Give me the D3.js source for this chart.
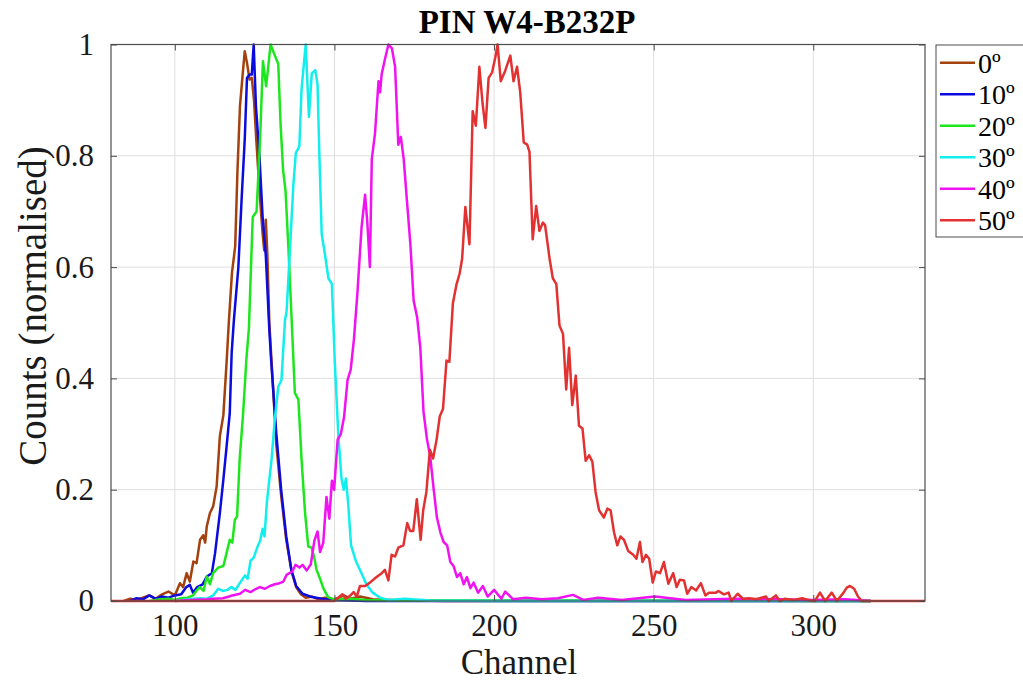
<!DOCTYPE html>
<html>
<head>
<meta charset="utf-8">
<script src="https://cdn.jsdelivr.net/npm/d3@7"></script>
<style>
  html, body { margin: 0; padding: 0; background: #ffffff; }
  svg { display: block; font-family: "Liberation Serif", "Times New Roman", serif; }
</style>
</head>
<body>
<svg id="chart" width="1023" height="682"></svg>
<script>
// ---------------- DATA ----------------
const seriesLabels = ["0º", "10º", "20º", "30º", "40º", "50º"];
const seriesColors = ["#a3410f", "#0b0bdf", "#1ee61e", "#12eeee", "#f012f0", "#e23131"];
const xTickValues = [100, 150, 200, 250, 300];
const yTickValues = [0, 0.2, 0.4, 0.6, 0.8, 1];
const yTickLabels = ["0", "0.2", "0.4", "0.6", "0.8", "1"];

// [channel, normalised counts]
const deg0 = [[84,0],[86,0.004],[88,0.002],[90,0.006],[92,0.01],[94,0.004],[96,0.012],[98,0.017],[100,0.01],
  [101.6,0.032],[102.6,0.025],[103.7,0.05],[104.7,0.035],[105.8,0.071],[106.8,0.068],[107.9,0.11],[108.9,0.118],
  [109.5,0.105],[110,0.134],[111,0.158],[112,0.17],[113.1,0.206],[114.1,0.296],[115.2,0.334],[116.2,0.428],
  [116.9,0.5],[117.9,0.59],[118.9,0.637],[119.6,0.77],[120.4,0.889],[121.2,0.943],[121.9,0.988],[122.6,0.967],
  [123.4,0.937],[124.1,0.94],[124.8,0.9],[125.5,0.83],[126.6,0.73],[127.5,0.66],[128,0.63],[128.5,0.685],
  [129,0.62],[129.6,0.5],[130.2,0.44],[131.8,0.28],[133.3,0.19],[134.9,0.11],[136.5,0.055],[138,0.025],
  [139.5,0.012],[141,0.006],[143,0.008],[145,0.003],[147,0.006],[149,0.002],[151,0.005],[153,0.01],[155,0.004],
  [158,0.008],[162,0.003],[168,0.002],[175,0.001],[185,0],[318,0]];

const deg10 = [[86,0],[88,0.005],[90,0.003],[92,0.01],[94,0.004],[96,0.008],[98,0.006],[100,0.01],[102,0.012],
  [103.6,0.025],[104.7,0.029],[105.7,0.015],[107,0.025],[108.7,0.03],[110,0.044],[111.6,0.05],[112.6,0.086],
  [114.1,0.158],[115.2,0.218],[116.2,0.277],[117.2,0.337],[117.8,0.446],[118.5,0.505],[119.9,0.6],[120.9,0.72],
  [121.9,0.83],[122.6,0.94],[123.4,0.946],[124.1,0.946],[124.7,1.0],[125.4,0.89],[126.5,0.8],[127.5,0.69],
  [128.5,0.62],[129.6,0.487],[130.2,0.43],[131.8,0.3],[133.3,0.2],[134.9,0.116],[136.5,0.056],[138,0.027],
  [140,0.013],[143,0.007],[146,0.004],[150,0.002],[155,0.001],[160,0],[318,0]];

const deg20 = [[92,0],[95.4,0.003],[98,0.004],[100,0.002],[102,0.005],[104,0.006],[105.7,0.01],[107,0.02],
  [107.8,0.025],[109,0.018],[110,0.044],[111,0.03],[112,0.05],[113.6,0.06],[115.2,0.063],[116.2,0.086],
  [117.2,0.11],[118,0.105],[118.8,0.146],[119.5,0.152],[120.3,0.254],[121.4,0.338],[122.4,0.433],[123.2,0.49],
  [124.4,0.69],[125.6,0.7],[126.7,0.83],[127.6,0.97],[128.6,0.925],[130,1.0],[131,0.985],[132.4,0.965],
  [133.1,0.86],[133.9,0.775],[134.7,0.735],[135.7,0.62],[136.6,0.505],[137.6,0.374],[138.7,0.362],[139.7,0.254],
  [140.8,0.158],[141.8,0.098],[142.8,0.096],[143.6,0.08],[144.4,0.056],[145.5,0.04],[146.5,0.023],[148,0.007],
  [150,0.003],[155,0.004],[160,0.002],[170,0.001],[318,0]];

const deg30 = [[100,0],[104,0.003],[108,0.005],[110,0.004],[112,0.01],[113.6,0.022],[115,0.018],[116.5,0.02],
  [117.7,0.025],[119,0.02],[120.9,0.037],[122,0.046],[122.8,0.04],[123.7,0.072],[124.7,0.078],[125.8,0.096],
  [126.7,0.108],[127.5,0.13],[128.1,0.116],[128.8,0.175],[129.6,0.218],[130.3,0.254],[131.3,0.326],[132.4,0.385],
  [133.4,0.397],[134.5,0.505],[135,0.52],[136,0.625],[137.1,0.745],[137.9,0.805],[139,0.817],[139.7,0.92],
  [140.5,0.97],[141,1.0],[142,0.87],[142.9,0.948],[144,0.954],[144.7,0.928],[145.3,0.797],[146,0.66],
  [147.1,0.62],[148.1,0.58],[149.2,0.57],[150.1,0.43],[151.2,0.3],[152.2,0.22],[152.9,0.2],[153.6,0.22],
  [154.3,0.175],[155.2,0.1],[156.7,0.072],[158.3,0.052],[160,0.03],[162,0.015],[164.3,0.006],[167,0.002],
  [172,0.004],[180,0.001],[200,0],[318,0]];

const deg40 = [[100,0],[105,0.002],[110,0.003],[112,0.004],[115,0.005],[117,0.008],[118,0.01],[120.4,0.013],
  [122,0.02],[123.7,0.016],[125.5,0.022],[126.6,0.025],[128.2,0.022],[129.8,0.027],[131.3,0.03],[132.8,0.032],
  [134,0.035],[135,0.047],[135.9,0.05],[136.8,0.053],[137.8,0.065],[139,0.06],[140,0.065],[141.3,0.055],
  [142.6,0.066],[143.7,0.108],[144.7,0.125],[145.5,0.088],[146.5,0.105],[147.5,0.187],[148.4,0.148],
  [149.2,0.216],[149.9,0.2],[151,0.29],[152,0.3],[153,0.33],[154.1,0.397],[155.1,0.416],[156.1,0.47],
  [157.2,0.554],[158.5,0.672],[159.6,0.73],[160.3,0.68],[161.1,0.6],[161.7,0.794],[162.7,0.84],[163.8,0.934],
  [164.3,0.914],[164.8,0.947],[165.8,0.973],[166.9,1.0],[168,0.993],[169,0.96],[170,0.82],[170.8,0.834],
  [171.7,0.794],[172.7,0.72],[173.8,0.64],[174.8,0.54],[175.9,0.51],[176.9,0.455],[177.9,0.34],[179,0.29],
  [180,0.26],[181.1,0.2],[182.1,0.15],[183.2,0.123],[184.2,0.106],[185.3,0.1],[186.3,0.07],[187.3,0.063],
  [188.4,0.043],[189.4,0.05],[190.5,0.03],[191.5,0.043],[192.6,0.023],[193.6,0.033],[195,0.015],[196.5,0.027],
  [198,0.008],[200,0.02],[202.3,0.004],[203.5,0.017],[206,0.003],[210,0.006],[215,0.003],[220,0.005],
  [224.7,0.011],[228,0.002],[232.6,0.006],[240,0.002],[250.4,0.008],[260,0.002],[275,0.004],[290,0.003],
  [300,0.002],[310,0.003],[318,0]];

const deg50 = [[80,0],[150,0],[151,0.005],[152.5,0.012],[153.5,0.004],[155,0.01],[156,0.016],[157,0.008],
  [158,0.027],[159.6,0.027],[161.1,0.033],[163.2,0.043],[164.8,0.05],[165.8,0.056],[166.9,0.037],[167.9,0.083],
  [169,0.08],[170,0.096],[171.6,0.1],[172.8,0.14],[173.7,0.126],[174.7,0.126],[175.8,0.183],[177,0.11],
  [177.8,0.163],[178.8,0.196],[179.9,0.272],[180.9,0.256],[182,0.29],[183,0.332],[184,0.345],[185.1,0.432],
  [186,0.43],[187.1,0.535],[188.2,0.568],[189.2,0.588],[190,0.615],[191,0.708],[192.3,0.641],[193.3,0.88],
  [194.3,0.854],[195.4,0.96],[196.4,0.894],[197.3,0.85],[198.3,0.94],[199.4,0.95],[200.4,0.977],[201.1,1.0],
  [202.1,0.934],[203.5,0.953],[205.1,0.98],[206.1,0.934],[207.2,0.96],[208.2,0.914],[209.3,0.824],[210.4,0.82],
  [211.1,0.807],[212.1,0.65],[213.2,0.71],[214.2,0.665],[215.3,0.68],[216,0.675],[217.4,0.615],[218.4,0.58],
  [219.5,0.57],[220.5,0.495],[221.6,0.48],[222.6,0.38],[223.5,0.455],[224.5,0.352],[225.6,0.405],[226.6,0.315],
  [227.7,0.31],[228.7,0.252],[229.8,0.262],[230.8,0.25],[231.8,0.196],[232.9,0.163],[234.4,0.15],[235.5,0.166],
  [236.5,0.163],[237.6,0.123],[238.6,0.1],[239.6,0.116],[240.7,0.11],[242,0.09],[243.6,0.083],[244.6,0.076],
  [245.7,0.106],[246.5,0.07],[247.6,0.083],[248.6,0.076],[249.7,0.033],[250.7,0.053],[252,0.05],[253.2,0.07],
  [254.6,0.031],[256.1,0.05],[257.2,0.025],[258.2,0.038],[259.5,0.037],[260.5,0.013],[261.8,0.025],[263.3,0.019],
  [264.8,0.032],[266.2,0.01],[267.3,0.015],[269.5,0.015],[270.3,0.018],[272,0.012],[273.5,0.015],[274.3,0],
  [276.3,0.013],[278,0.004],[280,0.005],[282,0.003],[285.2,0.008],[286,0],[288.3,0.01],[289.5,0],[291,0.004],
  [294,0.002],[296.5,0.005],[299,0.001],[300.5,0],[302.1,0.015],[303.7,0],[305.8,0.015],[307.4,0],[309.5,0.015],
  [310.5,0.024],[311.5,0.027],[312.8,0.022],[314,0.008],[315.2,0],[335,0]];

const allSeries = [deg0, deg10, deg20, deg30, deg40, deg50];

// ---------------- LAYOUT ----------------
const svg = d3.select("#chart");
const plot = { left: 111, right: 925, top: 44.5, bottom: 601 };

const x = d3.scaleLinear().domain([80, 335]).range([plot.left, plot.right]);
const y = d3.scaleLinear().domain([0, 1]).range([plot.bottom, plot.top]);

svg.append("rect").attr("x", 0).attr("y", 0).attr("width", 1023).attr("height", 682).attr("fill", "#fff");

// grid
const grid = svg.append("g").attr("stroke", "#dedede").attr("stroke-width", 1);
xTickValues.forEach(v => grid.append("line")
  .attr("x1", x(v)).attr("x2", x(v)).attr("y1", plot.top).attr("y2", plot.bottom));
yTickValues.forEach(v => grid.append("line")
  .attr("x1", plot.left).attr("x2", plot.right).attr("y1", y(v)).attr("y2", y(v)));

svg.append("clipPath").attr("id", "clip").append("rect")
  .attr("x", plot.left).attr("y", plot.top - 2)
  .attr("width", plot.right - plot.left).attr("height", plot.bottom - plot.top + 4);

const line = d3.line().x(d => x(d[0])).y(d => y(d[1]));
const linesG = svg.append("g").attr("clip-path", "url(#clip)");
allSeries.forEach((s, i) => {
  linesG.append("path").datum(s)
    .attr("d", line)
    .attr("fill", "none")
    .attr("stroke", seriesColors[i])
    .attr("stroke-width", 2.5)
    .attr("stroke-linejoin", "round");
});

// axes (box with inward ticks)
const tickLen = 6;
const axisColor = "#4d4d4d";
const xAxisB = d3.axisBottom(x).tickValues(xTickValues).tickSizeInner(-tickLen).tickSizeOuter(0).tickFormat(d3.format("d")).tickPadding(12);
const gx = svg.append("g").attr("transform", `translate(0,${plot.bottom})`).call(xAxisB);
gx.select(".domain").remove();
gx.selectAll(".tick line").attr("stroke", axisColor);
gx.selectAll(".tick text").attr("font-size", 31).attr("fill", "#1a1a1a").attr("font-family", "Liberation Serif").attr("dy", "0.74em");

const xAxisT = d3.axisTop(x).tickValues(xTickValues).tickSizeInner(-tickLen).tickSizeOuter(0).tickFormat("");
const gxt = svg.append("g").attr("transform", `translate(0,${plot.top})`).call(xAxisT);
gxt.select(".domain").remove();
gxt.selectAll(".tick line").attr("stroke", axisColor);

const yAxisL = d3.axisLeft(y).tickValues(yTickValues).tickSizeInner(-tickLen).tickSizeOuter(0)
  .tickFormat((d, i) => yTickLabels[i]).tickPadding(17);
const gy = svg.append("g").attr("transform", `translate(${plot.left},0)`).call(yAxisL);
gy.select(".domain").remove();
gy.selectAll(".tick line").attr("stroke", axisColor);
gy.selectAll(".tick text").attr("font-size", 31).attr("fill", "#1a1a1a").attr("font-family", "Liberation Serif");

const yAxisR = d3.axisRight(y).tickValues(yTickValues).tickSizeInner(-tickLen).tickSizeOuter(0).tickFormat("");
const gyr = svg.append("g").attr("transform", `translate(${plot.right},0)`).call(yAxisR);
gyr.select(".domain").remove();
gyr.selectAll(".tick line").attr("stroke", axisColor);

svg.append("rect")
  .attr("x", plot.left).attr("y", plot.top)
  .attr("width", plot.right - plot.left).attr("height", plot.bottom - plot.top)
  .attr("fill", "none").attr("stroke", axisColor).attr("stroke-width", 1.2);

// title & labels
svg.append("text").attr("x", 527).attr("y", 33)
  .attr("text-anchor", "middle").attr("font-size", 33).attr("font-weight", "bold")
  .attr("fill", "#000").text("PIN W4-B232P");

svg.append("text").attr("x", 519).attr("y", 674)
  .attr("text-anchor", "middle").attr("font-size", 35).attr("fill", "#1a1a1a").text("Channel");

svg.append("text").attr("transform", `translate(46,306) rotate(-90)`)
  .attr("text-anchor", "middle").attr("font-size", 39).attr("fill", "#1a1a1a").text("Counts (normalised)");

// legend
const leg = svg.append("g");
leg.append("rect").attr("x", 936).attr("y", 45).attr("width", 110).attr("height", 192)
  .attr("fill", "#fff").attr("stroke", axisColor).attr("stroke-width", 1);
seriesLabels.forEach((lab, i) => {
  const cy = 62.7 + i * 31.5;
  leg.append("line").attr("x1", 940).attr("x2", 975).attr("y1", cy).attr("y2", cy)
    .attr("stroke", seriesColors[i]).attr("stroke-width", 2.5);
  leg.append("text").attr("x", 978).attr("y", cy).attr("dy", "0.35em")
    .attr("font-size", 28).attr("fill", "#000").text(lab);
});
</script>
</body>
</html>
